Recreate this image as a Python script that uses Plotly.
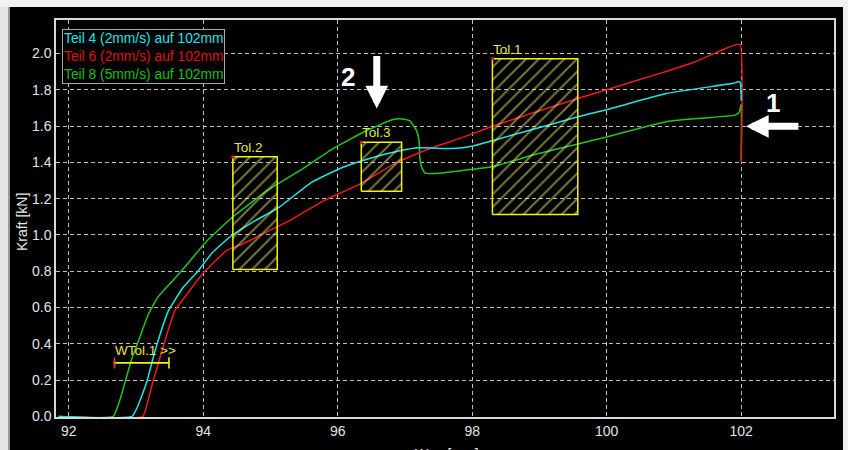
import plotly.graph_objects as go

# ---------------- data ----------------
legend_names = ["Teil 4 (2mm/s) auf 102mm", "Teil 6 (2mm/s) auf 102mm", "Teil 8 (5mm/s) auf 102mm"]

x_teil4 = [91.85, 92.94, 93.03, 93.16, 93.26, 93.33, 93.48, 93.70, 93.92, 94.13, 94.40, 94.78,
           95.12, 95.61, 96.06, 96.46, 96.94, 97.20, 97.71, 98.01, 98.31, 99.56, 100.0, 100.9,
           101.88, 101.98, 102.0]
y_teil4 = [0.0, 0.0, 0.06, 0.19, 0.33, 0.42, 0.58, 0.71, 0.80, 0.90, 0.99, 1.08,
           1.15, 1.29, 1.37, 1.42, 1.465, 1.48, 1.476, 1.49, 1.52, 1.65, 1.69, 1.78,
           1.835, 1.845, 1.74]

x_teil6 = [91.85, 93.10, 93.18, 93.25, 93.33, 93.40, 93.58, 93.75, 94.00, 94.35, 94.59, 94.79,
           95.29, 95.80, 96.33, 96.88, 97.37, 97.88, 98.31, 99.56, 100.0, 100.79, 101.29,
           101.79, 101.98, 102.0]
y_teil6 = [0.0, 0.0, 0.09, 0.19, 0.29, 0.38, 0.584, 0.67, 0.79, 0.915, 0.951, 0.988,
           1.08, 1.19, 1.28, 1.40, 1.476, 1.54, 1.60, 1.75, 1.80, 1.89, 1.95,
           2.03, 2.05, 1.40]

x_teil8 = [91.85, 92.66, 92.76, 92.86, 92.93, 93.05, 93.18, 93.32, 93.50, 93.65, 94.05, 94.44,
           94.79, 94.95, 95.44, 95.93, 96.43, 96.82, 96.93, 97.07, 97.17, 97.21, 97.22, 97.25,
           97.30, 97.52, 97.63, 98.31, 98.9, 99.56, 100.0, 100.9, 101.91, 101.97, 102.0, 102.0]
y_teil8 = [0.0, 0.0, 0.09, 0.22, 0.31, 0.43, 0.56, 0.655, 0.73, 0.79, 0.965, 1.10,
           1.20, 1.245, 1.355, 1.476, 1.575, 1.636, 1.64, 1.63, 1.576, 1.52, 1.43, 1.37,
           1.34, 1.34, 1.345, 1.377, 1.44, 1.50, 1.54, 1.625, 1.66, 1.675, 1.72, 1.41]

tol_names = ["Tol.1", "Tol.2", "Tol.3"]
tol_x0 = [98.30, 94.44, 96.35]
tol_x1 = [99.57, 95.10, 96.95]
tol_y0 = [1.113, 0.81, 1.24]
tol_y1 = [1.97, 1.43, 1.51]

wtol_name = "WTol.1 >>"
wtol_x0 = 92.68
wtol_x1 = 93.49
wtol_y = 0.295

x_ticks = [92, 94, 96, 98, 100, 102]
y_ticks = [0.0, 0.2, 0.4, 0.6, 0.8, 1.0, 1.2, 1.4, 1.6, 1.8, 2.0]

# ---------------- styling ----------------
W, H = 848, 450
L, R, T, B = 56, 14, 20, 33
PW, PH = W - L - R, H - T - B


def px_x(p):
    return (p - L) / PW


def px_y(p):
    return (H - B - p) / PH


C_CYAN = "#1fe6e6"
C_RED = "#f01818"
C_GREEN = "#1ec81e"
C_YEL = "#f2f21a"
C_GRID = "#bdbdbd"
FONT = "Liberation Sans"

fig = go.Figure()

for xs, ys, col in [(x_teil8, y_teil8, C_GREEN), (x_teil6, y_teil6, C_RED), (x_teil4, y_teil4, C_CYAN)]:
    fig.add_trace(go.Scatter(x=xs, y=ys, mode="lines",
                             line=dict(color=col, width=1.5, shape="spline", smoothing=0.4),
                             showlegend=False, hoverinfo="skip"))

# tolerance boxes (hatched)
for i in range(len(tol_names)):
    bx = [tol_x0[i], tol_x1[i], tol_x1[i], tol_x0[i], tol_x0[i]]
    by = [tol_y0[i], tol_y0[i], tol_y1[i], tol_y1[i], tol_y0[i]]
    fig.add_trace(go.Scatter(
        x=bx, y=by, mode="lines", fill="toself",
        fillcolor="rgba(0,0,0,0)",
        fillpattern=dict(shape="/", size=9, solidity=0.22, fgcolor="#eeee80",
                         bgcolor="rgba(0,0,0,0)", fillmode="overlay"),
        line=dict(color=C_YEL, width=1.5), showlegend=False, hoverinfo="skip"))
    fig.add_annotation(x=tol_x0[i], y=tol_y1[i], text=tol_names[i], showarrow=False,
                       xanchor="left", yanchor="bottom", yshift=0, xshift=-1,
                       font=dict(family=FONT, size=13.5, color="#e6e64a"))

# corner markers of the tolerance boxes
fig.add_trace(go.Scatter(x=tol_x0 + [wtol_x0], y=tol_y1 + [wtol_y], mode="markers",
                         marker=dict(color="#d02020", size=3, symbol="square"),
                         showlegend=False, hoverinfo="skip"))

# window tolerance
fig.add_trace(go.Scatter(x=[wtol_x0, wtol_x1], y=[wtol_y, wtol_y], mode="lines+markers",
                         line=dict(color=C_YEL, width=1.6),
                         marker=dict(symbol="line-ns", size=8, line=dict(width=1.6, color=["#d84020", C_YEL])),
                         showlegend=False, hoverinfo="skip"))
fig.add_annotation(x=wtol_x0, y=wtol_y, text=wtol_name, showarrow=False, xanchor="left",
                   yanchor="bottom", yshift=3, xshift=-2,
                   font=dict(family=FONT, size=13.5, color="#e6e64a"))

# legend box
leg_cols = [C_CYAN, "#e01010", "#10c010"]
leg_text = "<br>".join(f"<span style='color:{c}'>{n}</span>" for n, c in zip(legend_names, leg_cols))
fig.add_annotation(xref="paper", yref="paper", x=px_x(62), y=px_y(29), xanchor="left", yanchor="top",
                   text=leg_text, showarrow=False, align="left",
                   bordercolor="#a8a8a8", borderwidth=1, borderpad=1, bgcolor="black",
                   font=dict(family=FONT, size=13.8, color="white"))

# arrows and numbers
fig.add_annotation(x=96.58, y=1.697, ax=0, ay=-54, text="", showarrow=True, arrowhead=2,
                   arrowsize=0.65, arrowwidth=7, arrowcolor="white", standoff=0)
fig.add_annotation(x=102.07, y=1.598, ax=54, ay=0, text="", showarrow=True, arrowhead=2,
                   arrowsize=0.65, arrowwidth=7, arrowcolor="white", standoff=0)
fig.add_annotation(x=96.15, y=1.868, text="<b>2</b>", showarrow=False,
                   font=dict(family=FONT, size=26, color="white"))
fig.add_annotation(x=102.48, y=1.725, text="<b>1</b>", showarrow=False,
                   font=dict(family=FONT, size=26, color="white"))

# axis titles
fig.add_annotation(xref="paper", yref="paper", x=px_x(22), y=px_y(222), xanchor="center", yanchor="middle",
                   text="Kraft [kN]", textangle=-90, showarrow=False,
                   font=dict(family=FONT, size=14, color="#e8e8e8"))
fig.add_annotation(xref="paper", yref="paper", x=px_x(447), y=px_y(444), xanchor="center", yanchor="top",
                   text="Weg [mm]", showarrow=False, font=dict(family=FONT, size=14, color="#e8e8e8"))

# light window frame around the black panel
frame = [
    (-1, 10, -1, H + 1, "#e4e4e4"),
    (8, 10, 6, H + 1, "#9a9a9a"),
    (-1, W + 1, -1, 7, "#f2f2f2"),
    (843, W + 1, -1, H + 1, "#f0f0f0"),
]
for x0, x1, y0, y1, c in frame:
    fig.add_shape(type="rect", xref="paper", yref="paper", x0=px_x(x0), x1=px_x(x1),
                  y0=px_y(y1), y1=px_y(y0), fillcolor=c, line=dict(width=0), layer="above")

axis_common = dict(showgrid=True, gridcolor=C_GRID, gridwidth=1, griddash="4px,3px",
                   zeroline=False, showline=True, linecolor="#d8d8d8", linewidth=1.5, mirror=True,
                   ticks="", tickfont=dict(family=FONT, size=14, color="#e4e4e4"))

fig.update_layout(
    width=W, height=H,
    margin=dict(l=L, r=R, t=T, b=B),
    paper_bgcolor="black", plot_bgcolor="black",
    showlegend=False,
    xaxis=dict(range=[91.81, 103.38], tickvals=x_ticks, ticktext=[str(v) for v in x_ticks], **axis_common),
    yaxis=dict(range=[-0.003, 2.184], tickvals=y_ticks, ticktext=[f"{v:.1f}" for v in y_ticks],
               ticklabelstandoff=0, **axis_common),
)

fig.write_html("out.html", config={"displayModeBar": False},
               post_script="document.body.style.margin='0px';document.body.style.padding='0px';")
